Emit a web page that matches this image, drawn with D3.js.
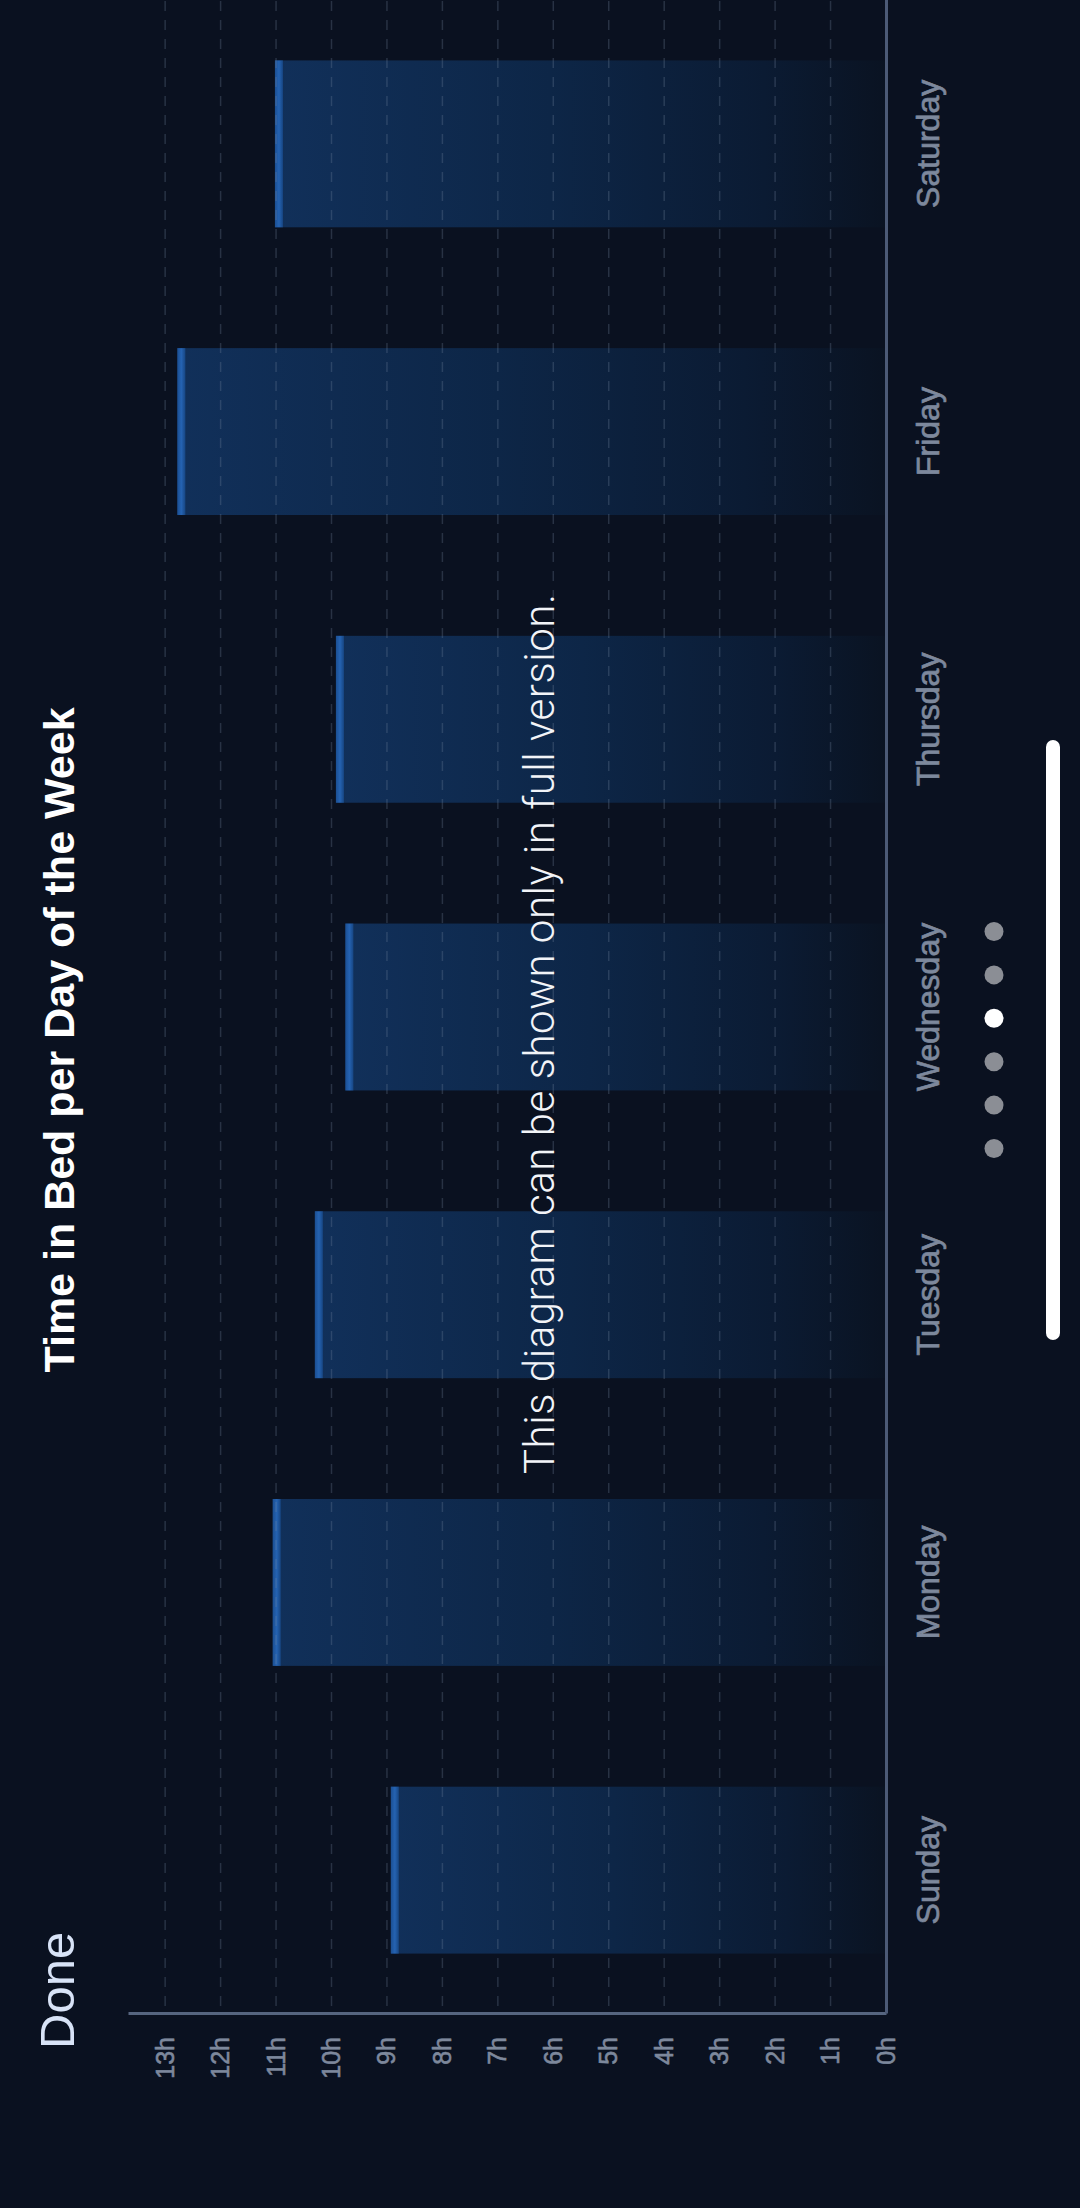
<!DOCTYPE html>
<html lang="en">
<head>
    <meta charset="UTF-8">
    <meta name="viewport" content="width=device-width, initial-scale=1.0">
    <title>Time in Bed per Day of the Week</title>
    <script src="https://d3js.org/d3.v7.min.js"></script>
    <style>
        html, body { margin: 0; padding: 0; background: #0a1120; }
        svg { display: block; }
    </style>
</head>
<body>
    <script>
var days = ['Sunday', 'Monday', 'Tuesday', 'Wednesday', 'Thursday', 'Friday', 'Saturday'];
var hoursInBed = [8.93, 11.06, 10.30, 9.75, 9.92, 12.78, 11.02];
var hourTicks = [0, 1, 2, 3, 4, 5, 6, 7, 8, 9, 10, 11, 12, 13];

var pageW = 1080;
var pageH = 2208;
// the screenshot is a landscape screen turned on its side,
// so everything is drawn in a 2208 x 1080 frame and rotated
var W = pageH;
var H = pageW;
var bg = '#0a1120';
var labelColor = '#7d889c';

var svg = d3.select('body')
            .append('svg')
            .attr('width', pageW)
            .attr('height', pageH);

svg.append('rect')
   .attr('width', pageW)
   .attr('height', pageH)
   .attr('fill', bg);

var canvas = svg.append('g')
                .attr('transform', `translate(0, ${pageH}) rotate(-90)`);

var xScale = d3.scaleBand() // days, left to right
               .domain(days)
               .range([194, W])
               .paddingInner(0.42)
               .paddingOuter(0.21);

var yScale = d3.scaleLinear() // hours
               .domain([0, 13.67])
               .range([886, 128]);

// bar fill, bright at the top and fading into the background at 0h
var defs = svg.append('defs');
var grad = defs.append('linearGradient')
               .attr('id', 'barFill')
               .attr('x1', 0).attr('y1', 0)
               .attr('x2', 0).attr('y2', 1);
grad.append('stop').attr('offset', '0%').attr('stop-color', '#11305a');
grad.append('stop').attr('offset', '45%').attr('stop-color', '#0d2647');
grad.append('stop').attr('offset', '80%').attr('stop-color', '#0b1b33');
grad.append('stop').attr('offset', '100%').attr('stop-color', '#0a1322');

var capGrad = defs.append('linearGradient')
                  .attr('id', 'capFill')
                  .attr('x1', 0).attr('y1', 0)
                  .attr('x2', 0).attr('y2', 1);
capGrad.append('stop').attr('offset', '0%').attr('stop-color', '#1b4f93');
capGrad.append('stop').attr('offset', '50%').attr('stop-color', '#2563b2');
capGrad.append('stop').attr('offset', '100%').attr('stop-color', '#174683');

// bars
canvas.selectAll('.bar')
      .data(hoursInBed)
      .enter()
      .append('rect')
      .attr('class', 'bar')
      .attr('x', function(d, i) { return xScale(days[i]); })
      .attr('y', function(d) { return yScale(d); })
      .attr('width', xScale.bandwidth())
      .attr('height', function(d) { return yScale(0) - yScale(d); })
      .attr('fill', 'url(#barFill)');

canvas.selectAll('.cap')
      .data(hoursInBed)
      .enter()
      .append('rect')
      .attr('class', 'cap')
      .attr('x', function(d, i) { return xScale(days[i]); })
      .attr('y', function(d) { return yScale(d); })
      .attr('width', xScale.bandwidth())
      .attr('height', 8)
      .attr('fill', 'url(#capFill)');

// dashed hour grid, drawn over the bars
canvas.append('g')
      .selectAll('line')
      .data(hourTicks.slice(1))
      .enter()
      .append('line')
      .attr('x1', 202)
      .attr('x2', W)
      .attr('y1', function(d) { return yScale(d); })
      .attr('y2', function(d) { return yScale(d); })
      .attr('stroke', 'rgba(120, 135, 160, 0.28)')
      .attr('stroke-width', 1.5)
      .attr('stroke-dasharray', '10,9');

// hour axis
var yAxis = d3.axisLeft(yScale)
              .tickValues(hourTicks)
              .tickFormat(function(d) { return d + 'h'; })
              .tickSize(0)
              .tickPadding(23);

var yG = canvas.append('g')
               .attr('transform', 'translate(194, 0)')
               .call(yAxis);
yG.select('.domain').attr('stroke', '#56657f').attr('stroke-width', 3);
yG.selectAll('text')
  .attr('fill', labelColor)
  .attr('stroke', labelColor)
  .attr('stroke-width', 0.6)
  .style('font-family', '"Liberation Sans", Arial, sans-serif')
  .style('font-size', '25px');

// day axis
var xAxis = d3.axisBottom(xScale)
              .tickSize(0)
              .tickPadding(30);

var xG = canvas.append('g')
               .attr('transform', `translate(0, ${yScale(0)})`)
               .call(xAxis);
xG.select('.domain').attr('stroke', '#4c5a76').attr('stroke-width', 3);
xG.selectAll('text')
  .attr('fill', labelColor)
  .attr('stroke', labelColor)
  .attr('stroke-width', 0.7)
  .style('font-family', '"Liberation Sans", Arial, sans-serif')
  .style('font-size', '32px');

// title and buttons
var midX = 1168;

canvas.append('text')
      .attr('x', midX)
      .attr('y', 74)
      .attr('text-anchor', 'middle')
      .attr('fill', '#ffffff')
      .style('font-family', '"Liberation Sans", Arial, sans-serif')
      .style('font-weight', 'bold')
      .style('font-size', '43px')
      .text('Time in Bed per Day of the Week');

canvas.append('text')
      .attr('x', 159)
      .attr('y', 74)
      .attr('fill', '#d8e3f7')
      .style('font-family', '"Liberation Sans", Arial, sans-serif')
      .style('font-size', '49px')
      .text('Done');

canvas.append('text')
      .attr('x', 1174)
      .attr('y', 554)
      .attr('text-anchor', 'middle')
      .attr('fill', '#f2f4f8')
      .style('font-family', 'Roboto, "Liberation Sans", sans-serif')
      .style('font-weight', 300)
      .style('font-size', '42px')
      .attr('textLength', 880)
      .attr('lengthAdjust', 'spacing')
      .text('This diagram can be shown only in full version.');

// page dots
var dotCount = 6;
var dotGap = 43.4;
var activeDot = 3;
canvas.append('g')
      .selectAll('circle')
      .data(d3.range(dotCount))
      .enter()
      .append('circle')
      .attr('cx', function(d) { return midX + (d - (dotCount - 1) / 2) * dotGap; })
      .attr('cy', 994)
      .attr('r', 9.5)
      .attr('fill', function(d) { return d === activeDot ? '#ffffff' : '#8b8e95'; });

// home indicator
canvas.append('rect')
      .attr('x', midX - 300)
      .attr('y', 1046)
      .attr('width', 600)
      .attr('height', 14)
      .attr('rx', 7)
      .attr('fill', '#ffffff');
    </script>
</body>
</html>
